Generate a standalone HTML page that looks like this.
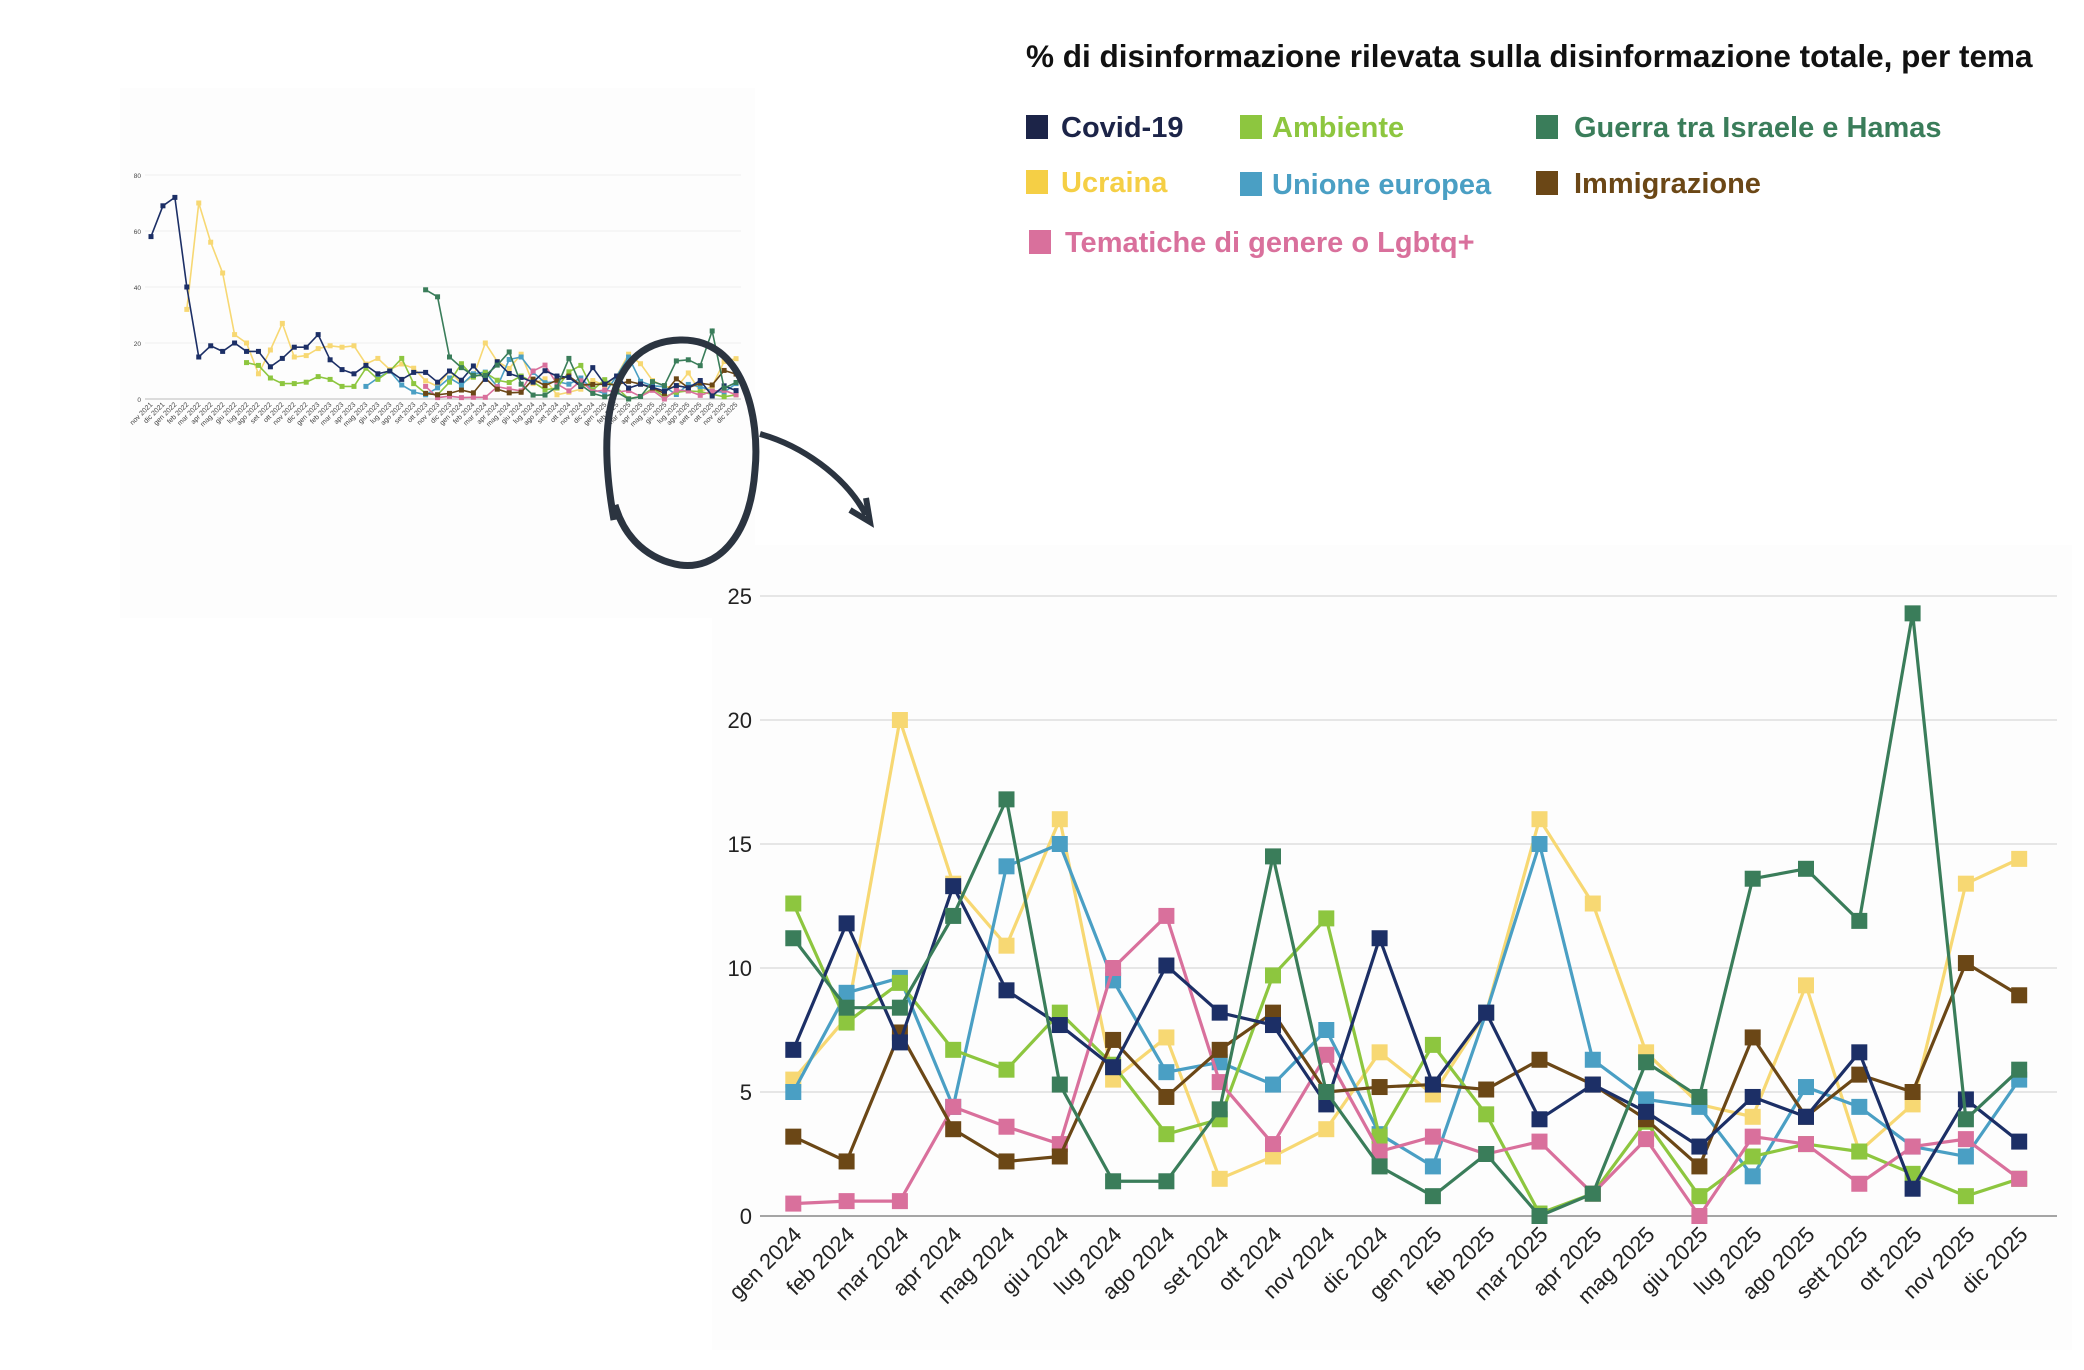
<!DOCTYPE html>
<html><head><meta charset="utf-8">
<style>
html,body{margin:0;padding:0;background:#fff;}
svg{display:block;font-family:"Liberation Sans",sans-serif;}
.lg{font-size:29px;font-weight:bold;}
.ax{font-size:22px;fill:#222;}
.sx{font-size:7px;fill:#444;}
</style></head><body>
<svg id="s" width="2084" height="1370" viewBox="0 0 2084 1370">
<rect x="120" y="88" width="635" height="530" fill="#fdfdfd"/>
<rect x="712" y="545" width="1360" height="805" fill="#fdfdfd"/>
<text x="1026" y="67" font-size="31.5" font-weight="bold" fill="#111">% di disinformazione rilevata sulla disinformazione totale, per tema</text>
<rect x="1026" y="115" width="22" height="24" fill="#1c2448"/><text class="lg" x="1061" y="137" fill="#1c2448">Covid-19</text>
<rect x="1240" y="115" width="22" height="24" fill="#8dc63f"/><text class="lg" x="1272" y="137" fill="#8dc63f">Ambiente</text>
<rect x="1536" y="115" width="22" height="24" fill="#3a7d5a"/><text class="lg" x="1574" y="137" fill="#3a7d5a">Guerra tra Israele e Hamas</text>
<rect x="1026" y="170" width="22" height="24" fill="#f5cf45"/><text class="lg" x="1061" y="192" fill="#f5cf45">Ucraina</text>
<rect x="1240" y="172" width="22" height="24" fill="#4a9fc4"/><text class="lg" x="1272" y="194" fill="#4a9fc4">Unione europea</text>
<rect x="1536" y="171" width="22" height="24" fill="#6b4716"/><text class="lg" x="1574" y="193" fill="#6b4716">Immigrazione</text>
<rect x="1029" y="230" width="22" height="24" fill="#d9709c"/><text class="lg" x="1065" y="252" fill="#d9709c">Tematiche di genere o Lgbtq+</text>
<g id="grid"></g>
<g class="ax" text-anchor="end">
<text x="752" y="604">25</text><text x="752" y="728">20</text><text x="752" y="852">15</text><text x="752" y="976">10</text><text x="752" y="1100">5</text><text x="752" y="1224">0</text>
</g>
<g font-size="6.5" fill="#444" text-anchor="end">
<text x="141" y="178">80</text><text x="141" y="234">60</text><text x="141" y="290">40</text><text x="141" y="346">20</text><text x="141" y="402">0</text>
</g>
<g id="ser"></g>
<g class="ax" text-anchor="end">
<text transform="translate(803,1236) rotate(-45)">gen 2024</text>
<text transform="translate(856,1236) rotate(-45)">feb 2024</text>
<text transform="translate(910,1236) rotate(-45)">mar 2024</text>
<text transform="translate(963,1236) rotate(-45)">apr 2024</text>
<text transform="translate(1016,1236) rotate(-45)">mag 2024</text>
<text transform="translate(1070,1236) rotate(-45)">giu 2024</text>
<text transform="translate(1123,1236) rotate(-45)">lug 2024</text>
<text transform="translate(1176,1236) rotate(-45)">ago 2024</text>
<text transform="translate(1230,1236) rotate(-45)">set 2024</text>
<text transform="translate(1283,1236) rotate(-45)">ott 2024</text>
<text transform="translate(1336,1236) rotate(-45)">nov 2024</text>
<text transform="translate(1389,1236) rotate(-45)">dic 2024</text>
<text transform="translate(1443,1236) rotate(-45)">gen 2025</text>
<text transform="translate(1496,1236) rotate(-45)">feb 2025</text>
<text transform="translate(1549,1236) rotate(-45)">mar 2025</text>
<text transform="translate(1603,1236) rotate(-45)">apr 2025</text>
<text transform="translate(1656,1236) rotate(-45)">mag 2025</text>
<text transform="translate(1709,1236) rotate(-45)">giu 2025</text>
<text transform="translate(1763,1236) rotate(-45)">lug 2025</text>
<text transform="translate(1816,1236) rotate(-45)">ago 2025</text>
<text transform="translate(1869,1236) rotate(-45)">sett 2025</text>
<text transform="translate(1923,1236) rotate(-45)">ott 2025</text>
<text transform="translate(1976,1236) rotate(-45)">nov 2025</text>
<text transform="translate(2029,1236) rotate(-45)">dic 2025</text>
</g>
<g class="sx" text-anchor="end">
<text transform="translate(153,405) rotate(-45)">nov 2021</text><text transform="translate(165,405) rotate(-45)">dic 2021</text><text transform="translate(177,405) rotate(-45)">gen 2022</text><text transform="translate(189,405) rotate(-45)">feb 2022</text><text transform="translate(201,405) rotate(-45)">mar 2022</text><text transform="translate(213,405) rotate(-45)">apr 2022</text><text transform="translate(225,405) rotate(-45)">mag 2022</text><text transform="translate(237,405) rotate(-45)">giu 2022</text><text transform="translate(249,405) rotate(-45)">lug 2022</text><text transform="translate(260,405) rotate(-45)">ago 2022</text><text transform="translate(272,405) rotate(-45)">set 2022</text><text transform="translate(284,405) rotate(-45)">ott 2022</text><text transform="translate(296,405) rotate(-45)">nov 2022</text><text transform="translate(308,405) rotate(-45)">dic 2022</text><text transform="translate(320,405) rotate(-45)">gen 2023</text><text transform="translate(332,405) rotate(-45)">feb 2023</text><text transform="translate(344,405) rotate(-45)">mar 2023</text><text transform="translate(356,405) rotate(-45)">apr 2023</text><text transform="translate(368,405) rotate(-45)">mag 2023</text><text transform="translate(380,405) rotate(-45)">giu 2023</text><text transform="translate(392,405) rotate(-45)">lug 2023</text><text transform="translate(404,405) rotate(-45)">ago 2023</text><text transform="translate(416,405) rotate(-45)">set 2023</text><text transform="translate(428,405) rotate(-45)">ott 2023</text><text transform="translate(440,405) rotate(-45)">nov 2023</text><text transform="translate(452,405) rotate(-45)">dic 2023</text><text transform="translate(463,405) rotate(-45)">gen 2024</text><text transform="translate(475,405) rotate(-45)">feb 2024</text><text transform="translate(487,405) rotate(-45)">mar 2024</text><text transform="translate(499,405) rotate(-45)">apr 2024</text><text transform="translate(511,405) rotate(-45)">mag 2024</text><text transform="translate(523,405) rotate(-45)">giu 2024</text><text transform="translate(535,405) rotate(-45)">lug 2024</text><text transform="translate(547,405) rotate(-45)">ago 2024</text><text transform="translate(559,405) rotate(-45)">set 2024</text><text transform="translate(571,405) rotate(-45)">ott 2024</text><text transform="translate(583,405) rotate(-45)">nov 2024</text><text transform="translate(595,405) rotate(-45)">dic 2024</text><text transform="translate(607,405) rotate(-45)">gen 2025</text><text transform="translate(619,405) rotate(-45)">feb 2025</text><text transform="translate(631,405) rotate(-45)">mar 2025</text><text transform="translate(643,405) rotate(-45)">apr 2025</text><text transform="translate(655,405) rotate(-45)">mag 2025</text><text transform="translate(667,405) rotate(-45)">giu 2025</text><text transform="translate(679,405) rotate(-45)">lug 2025</text><text transform="translate(690,405) rotate(-45)">ago 2025</text><text transform="translate(702,405) rotate(-45)">sett 2025</text><text transform="translate(714,405) rotate(-45)">ott 2025</text><text transform="translate(726,405) rotate(-45)">nov 2025</text><text transform="translate(738,405) rotate(-45)">dic 2025</text>
</g>
<path d="M614,520 C596,420 610,342 680,340 C745,338 760,420 755,470 C750,540 715,570 680,565 C650,560 625,540 615,505" fill="none" stroke="#2b3440" stroke-width="7"/>
<path d="M760,434 C800,445 845,475 866,515" fill="none" stroke="#2b3440" stroke-width="6"/>
<path d="M850,510 L870,522 L866,498" fill="none" stroke="#2b3440" stroke-width="6"/>
</svg>
<script>
var NS="http://www.w3.org/2000/svg";
function el(p,t,a){var e=document.createElementNS(NS,t);for(var k in a)e.setAttribute(k,a[k]);p.appendChild(e);return e;}
var X0=793.3,DX=53.3,Y0=1216,U=24.8;
var g=document.getElementById("grid");
for(var v=0;v<=25;v+=5){var y=Y0-v*U;el(g,"line",{x1:760,x2:2057,y1:y,y2:y,stroke:v?"#e6e6e6":"#888","stroke-width":v?2:1.5});}
for(var v=0;v<=80;v+=20){var y=399-v*2.8;el(g,"line",{x1:145,x2:741,y1:y,y2:y,stroke:v?"#eee":"#bbb","stroke-width":1});}
var C={cov:"#1c2f66",amb:"#8dc63f",gue:"#3a7d5a",ucr:"#f7d873",ue:"#4a9fc4",imm:"#6b4716",gen:"#d9709c"};
var M={
cov:[6.7,11.8,7.0,13.3,9.1,7.7,6.0,10.1,8.2,7.7,4.5,11.2,5.3,8.2,3.9,5.3,4.2,2.8,4.8,4.0,6.6,1.1,4.7,3.0],
amb:[12.6,7.8,9.4,6.7,5.9,8.2,6.1,3.3,3.9,9.7,12.0,3.2,6.9,4.1,0.1,0.9,3.8,0.8,2.4,2.9,2.6,1.7,0.8,1.5],
ucr:[5.5,8.0,20.0,13.4,10.9,16.0,5.5,7.2,1.5,2.4,3.5,6.6,4.9,8.2,16.0,12.6,6.6,4.5,4.0,9.3,2.6,4.5,13.4,14.4],
ue:[5.0,9.0,9.6,4.4,14.1,15.0,9.5,5.8,6.2,5.3,7.5,3.3,2.0,8.2,15.0,6.3,4.7,4.4,1.6,5.2,4.4,2.8,2.4,5.5],
gen:[0.5,0.6,0.6,4.4,3.6,2.9,10.0,12.1,5.4,2.9,6.5,2.6,3.2,2.5,3.0,0.9,3.1,0.0,3.2,2.9,1.3,2.8,3.1,1.5],
imm:[3.2,2.2,7.4,3.5,2.2,2.4,7.1,4.8,6.7,8.2,5.0,5.2,5.3,5.1,6.3,5.3,3.9,2.0,7.2,4.0,5.7,5.0,10.2,8.9],
gue:[11.2,8.4,8.4,12.1,16.8,5.3,1.4,1.4,4.3,14.5,5.0,2.0,0.8,2.5,0.0,0.9,6.2,4.8,13.6,14.0,11.9,24.3,3.9,5.9]};
var pre={
cov:[[0,[58,69,72,40,15,19,17,20,17,17,11.5,14.5,18.5,18.5,23,14,10.5,9,12,9,10,7,9.5,9.5,6,10]]],
ucr:[[3,[32,70,56,45,23,20,9,17.5,27,15,15.5,18,19,18.5,19,12.5,14.5,10.5,12.5,11,6.5,4.5,10]]],
amb:[[8,[13,12,7.5,5.5,5.5,6,8,7,4.5,4.5,11,7,10,14.5,5.5,2,1.5,6]]],
ue:[[18,[4.5,7.5,10,5,2.5,1.5,4,7.5]]],
gue:[[23,[39,36.5,15]]],imm:[[23,[2,1.5,2]]],gen:[[23,[4.5,0.5,1]]]};
var s=document.getElementById("ser");
var order=["ucr","ue","amb","gen","imm","cov","gue"];
order.forEach(function(k){
 var st=pre[k][0][0],pv=pre[k][0][1].concat(M[k]),pts=[];
 pv.forEach(function(v,i){pts.push([151+11.94*(st+i),399-v*2.8]);});
 el(s,"polyline",{points:pts.map(function(p){return p.join(",")}).join(" "),fill:"none",stroke:C[k],"stroke-width":1.6});
 pts.forEach(function(p){el(s,"rect",{x:p[0]-2.5,y:p[1]-2.5,width:5,height:5,fill:C[k]});});
});
order.forEach(function(k){
 var pts=M[k].map(function(v,i){return [X0+DX*i,Y0-v*U];});
 el(s,"polyline",{points:pts.map(function(p){return p.join(",")}).join(" "),fill:"none",stroke:C[k],"stroke-width":3.2,"stroke-linejoin":"round"});
 pts.forEach(function(p){el(s,"rect",{x:p[0]-8,y:p[1]-8,width:16,height:16,fill:C[k]});});
});
</script>
</body></html>
